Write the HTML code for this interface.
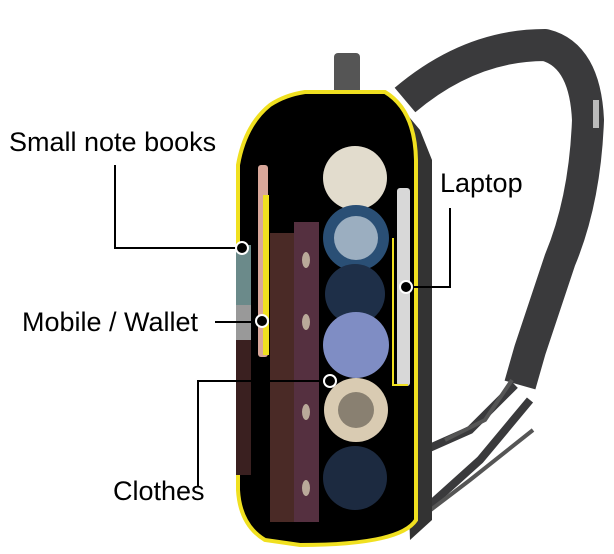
<!DOCTYPE html>
<html><head><style>
html,body{margin:0;padding:0;background:#fff;}
svg{display:block}
text{font-family:"Liberation Sans",sans-serif;fill:#000}
</style></head><body>
<svg width="614" height="554" viewBox="0 0 614 554" xmlns="http://www.w3.org/2000/svg">
<!-- strap -->
<path d="M405,100 Q470,45 545,45 Q585,55 588,120 Q585,200 560,260 L530,350 L520,385" fill="none" stroke="#3a3a3c" stroke-width="32" stroke-linejoin="round"/>
<path d="M515,385 L470,430 L425,450" fill="none" stroke="#3a3a3c" stroke-width="8"/>
<path d="M530,400 L480,460 L430,505" fill="none" stroke="#3a3a3c" stroke-width="8"/>
<path d="M512,380 L485,420 L445,440" fill="none" stroke="#555" stroke-width="4"/>
<path d="M533,430 L470,480 L428,512" fill="none" stroke="#555" stroke-width="4"/>
<rect x="593" y="100" width="6" height="28" fill="#bbb"/>
<!-- handle -->
<rect x="334" y="53" width="26" height="45" rx="4" fill="#555"/>
<!-- side body -->
<path d="M395,100 L420,130 L432,160 L432,520 L410,540 Z" fill="#333"/>
<!-- main body -->
<path d="M305,92 L385,92 Q415,110 416,160 L416,520 Q400,545 300,545 L265,540 Q240,525 238,490 L238,165 Q245,125 270,105 Q285,95 305,92 Z" fill="#000" stroke="#f0e020" stroke-width="4"/>
<!-- books -->
<rect x="270" y="233" width="24" height="289" fill="#4a2a26"/>
<rect x="294" y="222" width="25" height="300" fill="#553040"/>
<ellipse cx="306" cy="260" rx="4" ry="8" fill="#b9a999"/>
<ellipse cx="306" cy="322" rx="4" ry="8" fill="#b9a999"/>
<ellipse cx="306" cy="412" rx="4" ry="8" fill="#b9a999"/>
<ellipse cx="306" cy="488" rx="4" ry="8" fill="#b9a999"/>
<!-- phone -->
<rect x="258" y="165" width="10" height="192" rx="3" fill="#d9a79a"/>
<rect x="263" y="195" width="6" height="160" fill="#f0e020"/>
<!-- small notebooks -->
<rect x="236" y="245" width="15" height="60" fill="#6b8a8a"/>
<rect x="236" y="305" width="15" height="35" fill="#999"/>
<rect x="236" y="340" width="15" height="135" fill="#3a2020"/>
<!-- laptop -->
<rect x="397" y="188" width="13" height="198" rx="3" fill="#d8d8d8"/>
<path d="M393,238 L393,385 L408,385" fill="none" stroke="#f0e020" stroke-width="2"/>
<!-- clothes rolls -->
<circle cx="355" cy="178" r="32" fill="#e2dccd"/>
<circle cx="356" cy="238" r="33" fill="#2a4f75"/>
<circle cx="356" cy="238" r="22" fill="#e8eef2" opacity="0.6"/>
<circle cx="355" cy="294" r="30" fill="#1e2f48"/>
<circle cx="356" cy="345" r="33" fill="#7f8dc4"/>
<circle cx="356" cy="410" r="32" fill="#d9cbb2"/>
<circle cx="356" cy="410" r="18" fill="#3a3530" opacity="0.5"/>
<circle cx="355" cy="478" r="32" fill="#1c2a40"/>
<!-- labels & leaders -->
<text x="9" y="151" font-size="27">Small note books</text>
<path d="M115,165 V248 H240" fill="none" stroke="#000" stroke-width="2"/>
<text x="22" y="331" font-size="27">Mobile / Wallet</text>
<path d="M215,322 H262" fill="none" stroke="#000" stroke-width="2"/>
<text x="440" y="192" font-size="27">Laptop</text>
<path d="M450,208 V287 H405" fill="none" stroke="#000" stroke-width="2"/>
<text x="113" y="500" font-size="27">Clothes</text>
<path d="M198,486 V381 H330" fill="none" stroke="#000" stroke-width="2"/>
<g stroke="#fff" stroke-width="2" fill="#000">
<circle cx="242" cy="248" r="6"/>
<circle cx="262" cy="321" r="6"/>
<circle cx="406" cy="287" r="6"/>
<circle cx="330" cy="381" r="6"/>
</g>
</svg>
</body></html>
